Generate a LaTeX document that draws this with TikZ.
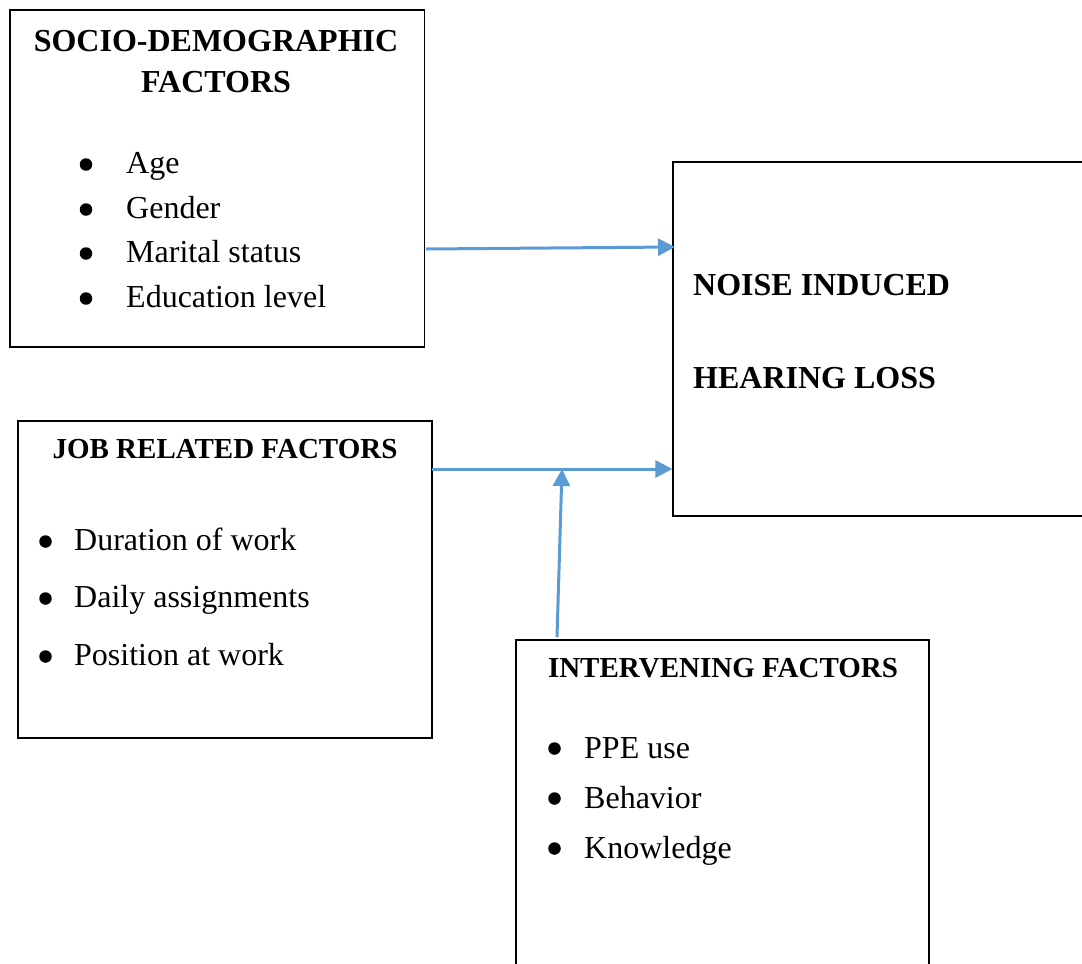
\documentclass[tikz,border=0pt]{standalone}
\usepackage{fontspec}
\setmainfont{Liberation Serif}
\usetikzlibrary{arrows.meta}
\definecolor{arrblue}{HTML}{5B9BD5}
\tikzset{
  box/.style={draw=black, line width=1.2pt, rectangle, inner sep=0pt},
  arr/.style={draw=arrblue, line width=3pt, -{Triangle[length=17pt,width=17pt]}},
  ttlA/.style={font=\fontsize{32}{38}\selectfont\bfseries, inner sep=0pt, anchor=base},
  ttlB/.style={font=\fontsize{29}{34}\selectfont\bfseries, inner sep=0pt, anchor=base},
  ttlL/.style={font=\fontsize{32}{38}\selectfont\bfseries, inner sep=0pt, anchor=base west},
  item/.style={font=\fontsize{32}{38}\selectfont, inner sep=0pt, anchor=base west},
  bul/.style={circle, fill=black, inner sep=0pt, minimum size=12.5pt}
}
\begin{document}
\begin{tikzpicture}[x=1pt,y=-1pt]
\useasboundingbox (0,0) rectangle (1082,964);
\clip (0,0) rectangle (1082,964);
% boxes
\node[box, minimum width=414.5pt, minimum height=337pt] (sd) at (217.25,178.5) {};
\node[box, minimum width=420pt, minimum height=354pt] (nihl) at (883,339) {};
\node[box, minimum width=414pt, minimum height=317pt] (jr) at (225,579.5) {};
\node[box, minimum width=413pt, minimum height=340pt] (iv) at (722.5,810) {};
% socio-demographic
\node[ttlA] (sdt1) at (216,51) {SOCIO-DEMOGRAPHIC};
\node[ttlA] (sdt2) at (216,92) {FACTORS};
\node[bul] (sdb1) at (86,164.5) {};
\node[bul] (sdb2) at (86,209.5) {};
\node[bul] (sdb3) at (86,253.5) {};
\node[bul] (sdb4) at (86,298.5) {};
\node[item] (sdi1) at (126,173) {Age};
\node[item] (sdi2) at (126,218) {Gender};
\node[item] (sdi3) at (126,262) {Marital status};
\node[item] (sdi4) at (126,307) {Education level};
% NIHL
\node[ttlL] (nt1) at (693,295) {NOISE INDUCED};
\node[ttlL] (nt2) at (693,388) {HEARING LOSS};
% job related
\node[ttlB] (jrt) at (225,458) {JOB RELATED FACTORS};
\node[bul] (jrb1) at (45.5,541.5) {};
\node[bul] (jrb2) at (45.5,598.5) {};
\node[bul] (jrb3) at (45.5,656.5) {};
\node[item] (jri1) at (74,550) {Duration of work};
\node[item] (jri2) at (74,607) {Daily assignments};
\node[item] (jri3) at (74,665) {Position at work};
% intervening
\node[ttlB] (ivt) at (723,677) {INTERVENING FACTORS};
\node[bul] (ivb1) at (554.5,748.5) {};
\node[bul] (ivb2) at (554.5,798.5) {};
\node[bul] (ivb3) at (554.5,848.5) {};
\node[item] (ivi1) at (584,758) {PPE use};
\node[item] (ivi2) at (584,808) {Behavior};
\node[item] (ivi3) at (584,858) {Knowledge};
% connectors
\coordinate (a1s) at (426,249);
\coordinate (a1e) at (675,247);
\draw[arr] (a1s) -- (a1e);
\coordinate (a2s) at (432,469);
\draw[arr] (a2s) -- (a2s -| nihl.west);
\coordinate (a3s) at (557,637);
\coordinate (a3e) at (562,469);
\draw[arr] (a3s) -- (a3e);
\end{tikzpicture}
\end{document}
